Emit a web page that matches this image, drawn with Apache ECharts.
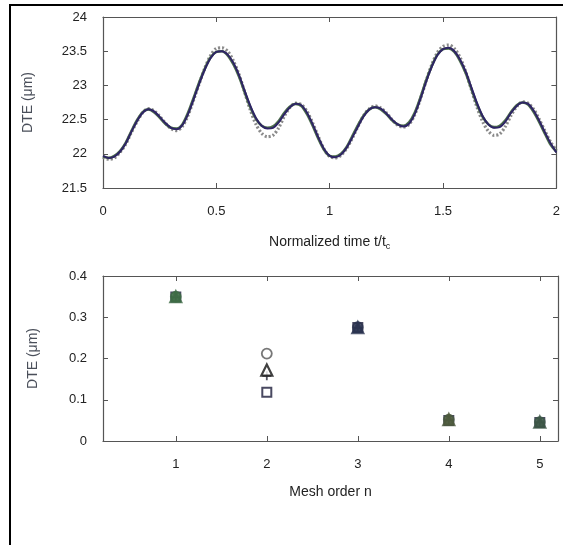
<!DOCTYPE html>
<html>
<head>
<meta charset="utf-8">
<script src="https://cdn.jsdelivr.net/npm/echarts@6/dist/echarts.min.js"></script>
<style>
  html, body { margin: 0; padding: 0; background: #fff; }
  #chart { width: 563px; height: 545px; }
</style>
</head>
<body>
<div id="chart"></div>
<script>
// Normalized time t/t_c for the transmission-error traces
const timeSteps = [
  0.000, 0.025, 0.050, 0.075, 0.100, 0.125, 0.150, 0.175, 0.200, 0.225,
  0.250, 0.275, 0.300, 0.325, 0.350, 0.375, 0.400, 0.425, 0.450, 0.475,
  0.500, 0.525, 0.550, 0.575, 0.600, 0.625, 0.650, 0.675, 0.700, 0.725,
  0.750, 0.775, 0.800, 0.825, 0.850, 0.875, 0.900, 0.925, 0.950, 0.975,
  1.000, 1.025, 1.050, 1.075, 1.100, 1.125, 1.150, 1.175, 1.200, 1.225,
  1.250, 1.275, 1.300, 1.325, 1.350, 1.375, 1.400, 1.425, 1.450, 1.475,
  1.500, 1.525, 1.550, 1.575, 1.600, 1.625, 1.650, 1.675, 1.700, 1.725,
  1.750, 1.775, 1.800, 1.825, 1.850, 1.875, 1.900, 1.925, 1.950, 1.975,
  2.000
];

// DTE (µm), finest mesh
const dteFine = [
  21.97, 21.94, 21.96, 22.03, 22.15, 22.32, 22.48, 22.60, 22.65, 22.62,
  22.54, 22.45, 22.38, 22.36, 22.42, 22.58, 22.80, 23.03, 23.24, 23.40,
  23.49, 23.50, 23.45, 23.33, 23.15, 22.92, 22.70, 22.52, 22.41, 22.37,
  22.38, 22.46, 22.58, 22.68, 22.73, 22.71, 22.60, 22.43, 22.24, 22.07,
  21.97, 21.95, 21.99, 22.09, 22.24, 22.40, 22.55, 22.65, 22.68, 22.66,
  22.59, 22.50, 22.43, 22.40, 22.44, 22.58, 22.80, 23.05, 23.27, 23.44,
  23.53, 23.55, 23.50, 23.38, 23.20, 22.97, 22.74, 22.55, 22.43, 22.38,
  22.39, 22.47, 22.60, 22.70, 22.75, 22.73, 22.63, 22.48, 22.31, 22.15,
  22.02
];

// DTE (µm), intermediate mesh
const dteMedium = [
  21.96, 21.94, 21.97, 22.04, 22.16, 22.33, 22.49, 22.61, 22.65, 22.61,
  22.53, 22.44, 22.38, 22.37, 22.43, 22.60, 22.82, 23.05, 23.25, 23.41,
  23.49, 23.50, 23.44, 23.31, 23.13, 22.90, 22.68, 22.51, 22.41, 22.38,
  22.40, 22.48, 22.60, 22.69, 22.73, 22.70, 22.58, 22.41, 22.22, 22.06,
  21.97, 21.96, 22.00, 22.10, 22.26, 22.42, 22.56, 22.65, 22.68, 22.65,
  22.58, 22.49, 22.43, 22.41, 22.46, 22.60, 22.82, 23.07, 23.28, 23.45,
  23.53, 23.54, 23.49, 23.36, 23.18, 22.95, 22.72, 22.54, 22.43, 22.39,
  22.41, 22.49, 22.61, 22.71, 22.75, 22.72, 22.61, 22.46, 22.29, 22.13,
  22.03
];

// DTE (µm), coarse mesh
const dteCoarse = [
  21.95, 21.92, 21.94, 22.02, 22.14, 22.31, 22.47, 22.60, 22.66, 22.63,
  22.55, 22.45, 22.37, 22.34, 22.40, 22.56, 22.79, 23.03, 23.26, 23.44,
  23.54, 23.55, 23.50, 23.36, 23.16, 22.90, 22.64, 22.43, 22.30, 22.25,
  22.27, 22.38, 22.55, 22.68, 22.74, 22.72, 22.62, 22.45, 22.25, 22.07,
  21.96, 21.94, 21.98, 22.08, 22.23, 22.40, 22.56, 22.66, 22.70, 22.67,
  22.60, 22.50, 22.42, 22.39, 22.43, 22.57, 22.80, 23.06, 23.30, 23.48,
  23.57, 23.59, 23.54, 23.41, 23.20, 22.94, 22.68, 22.47, 22.33, 22.27,
  22.29, 22.40, 22.56, 22.69, 22.76, 22.74, 22.65, 22.50, 22.33, 22.17,
  22.05
];

// Harmonic amplitudes of DTE (µm) against mesh order n
const meshOrders = [1, 2, 3, 4, 5];
const ampCircle   = [0.350, 0.212, 0.276, 0.052, 0.046];
const ampTriangle = [0.350, 0.172, 0.275, 0.052, 0.046];
const ampPlus     = [0.348, 0.158, 0.274, 0.050, 0.045];
const ampSquare   = [0.349, 0.118, 0.275, 0.050, 0.045];

// Tick labels
const timeTicks = [0, 0.5, 1, 1.5, 2];
const dteTicks = [21.5, 22, 22.5, 23, 23.5, 24];
const orderTicks = [1, 2, 3, 4, 5];
const ampTicks = [0, 0.1, 0.2, 0.3, 0.4];

// Where markers pile on top of each other they read as one filled blob
const circleFills   = ['#3d6b45', '#ffffff', '#2d3550', '#4a5a40', '#3f5a48'];
const triangleFills = ['#3d6b45', '#ffffff', '#2a3350', '#4d5a3c', '#3c5646'];

const FONT = '"Liberation Sans", Arial, sans-serif';
const AXIS_COLOR = '#555';
const LABEL_COLOR = '#222';

function pairs(xs, ys) { return xs.map((x, i) => [x, ys[i]]); }

function styledPairs(xs, ys, fills, border) {
  return xs.map((x, i) => ({
    value: [x, ys[i]],
    itemStyle: { color: fills[i], borderColor: fills[i] === '#ffffff' ? border : fills[i] }
  }));
}

function boxAxis(extra) {
  return Object.assign({
    axisLine: { show: true, onZero: false, lineStyle: { color: AXIS_COLOR, width: 1.2 } },
    axisTick: { show: true, inside: true, length: 5, lineStyle: { color: AXIS_COLOR } },
    splitLine: { show: false },
    axisLabel: { show: false }
  }, extra);
}

const labelStyle = { color: LABEL_COLOR, fontFamily: FONT, fontSize: 13 };

const chart = echarts.init(document.getElementById('chart'), null, { renderer: 'canvas' });

chart.setOption({
  backgroundColor: '#fff',
  animation: false,
  graphic: [{
    type: 'rect',
    shape: { x: 10, y: 5, width: 620, height: 620 },
    style: { fill: 'none', stroke: '#000', lineWidth: 2 },
    silent: true
  }],
  grid: [
    { left: 103, right: 5, top: 17, height: 171 },
    { left: 103, right: 5, top: 276, height: 165 }
  ],
  xAxis: [
    boxAxis({
      gridIndex: 0, type: 'value', min: 0, max: 2, interval: 0.5, position: 'bottom',
      axisLabel: Object.assign({ show: true, margin: 17,
        customValues: timeTicks }, labelStyle),
      axisTick: { show: true, inside: true, length: 5, customValues: timeTicks, lineStyle: { color: AXIS_COLOR } },
      name: '{n|Normalized time t/t}{s|c}',
      nameLocation: 'middle', nameGap: 46,
      nameTextStyle: {
        rich: {
          n: { fontFamily: FONT, fontSize: 14, color: '#222' },
          s: { fontFamily: FONT, fontSize: 9, color: '#222', verticalAlign: 'bottom', padding: [8, 0, 0, 0] }
        }
      }
    }),
    boxAxis({ gridIndex: 0, type: 'value', min: 0, max: 2, interval: 0.5, position: 'top' }),
    boxAxis({
      gridIndex: 1, type: 'value', min: 0.2, max: 5.2, position: 'bottom',
      axisLabel: Object.assign({ show: true, margin: 17, customValues: orderTicks }, labelStyle),
      axisTick: { show: true, inside: true, length: 5, customValues: orderTicks, lineStyle: { color: AXIS_COLOR } },
      name: 'Mesh order n', nameLocation: 'middle', nameGap: 44,
      nameTextStyle: { fontFamily: FONT, fontSize: 14, color: '#222' }
    }),
    boxAxis({
      gridIndex: 1, type: 'value', min: 0.2, max: 5.2, position: 'top',
      axisTick: { show: true, inside: true, length: 5, customValues: orderTicks, lineStyle: { color: AXIS_COLOR } }
    })
  ],
  yAxis: [
    boxAxis({
      gridIndex: 0, type: 'value', min: 21.5, max: 24, interval: 0.5, position: 'left',
      axisLabel: Object.assign({ show: true, margin: 16,
        formatter: v => dteTicks.includes(v) ? String(v) : '' }, labelStyle),
      name: 'DTE (μm)', nameLocation: 'middle', nameGap: 68,
      nameTextStyle: { fontFamily: FONT, fontSize: 14, color: '#4a4f5a' }
    }),
    boxAxis({ gridIndex: 0, type: 'value', min: 21.5, max: 24, interval: 0.5, position: 'right' }),
    boxAxis({
      gridIndex: 1, type: 'value', min: 0, max: 0.4, interval: 0.1, position: 'left',
      axisLabel: Object.assign({ show: true, margin: 16,
        formatter: v => { const r = Math.round(v * 10) / 10; return ampTicks.includes(r) ? String(r) : ''; } }, labelStyle),
      name: 'DTE (μm)', nameLocation: 'middle', nameGap: 63,
      nameTextStyle: { fontFamily: FONT, fontSize: 14, color: '#4a4f5a' }
    }),
    boxAxis({ gridIndex: 1, type: 'value', min: 0, max: 0.4, interval: 0.1, position: 'right' })
  ],
  series: [
    {
      type: 'line', xAxisIndex: 0, yAxisIndex: 0, data: pairs(timeSteps, dteCoarse),
      showSymbol: false, smooth: 0.3,
      lineStyle: { color: '#8a8a8a', width: 3.2, type: [2, 2] }
    },
    {
      type: 'line', xAxisIndex: 0, yAxisIndex: 0, data: pairs(timeSteps, dteMedium),
      showSymbol: false, smooth: 0.3,
      lineStyle: { color: '#4c6e4a', width: 2.6 }
    },
    {
      type: 'line', xAxisIndex: 0, yAxisIndex: 0, data: pairs(timeSteps, dteFine),
      showSymbol: false, smooth: 0.3,
      lineStyle: { color: '#2e2466', width: 2 }
    },
    {
      type: 'scatter', xAxisIndex: 2, yAxisIndex: 2, data: pairs(meshOrders, ampSquare),
      symbol: 'rect', symbolSize: 9,
      itemStyle: { color: '#fff', borderColor: '#1c1c3a', borderWidth: 2 }
    },
    {
      type: 'scatter', xAxisIndex: 2, yAxisIndex: 2, data: pairs(meshOrders, ampPlus),
      symbol: 'path://M4,0 L6,0 L6,4 L10,4 L10,6 L6,6 L6,10 L4,10 L4,6 L0,6 L0,4 L4,4 Z', symbolSize: 9,
      itemStyle: { color: '#2a2a3a' }
    },
    {
      type: 'scatter', xAxisIndex: 2, yAxisIndex: 2,
      data: styledPairs(meshOrders, ampCircle, circleFills, '#555'),
      symbol: 'circle', symbolSize: 10,
      itemStyle: { borderWidth: 1.8 }
    },
    {
      type: 'scatter', xAxisIndex: 2, yAxisIndex: 2,
      data: styledPairs(meshOrders, ampTriangle, triangleFills, '#111'),
      symbol: 'triangle', symbolSize: 11,
      itemStyle: { borderWidth: 2.2 }
    }
  ]
});
</script>
</body>
</html>
